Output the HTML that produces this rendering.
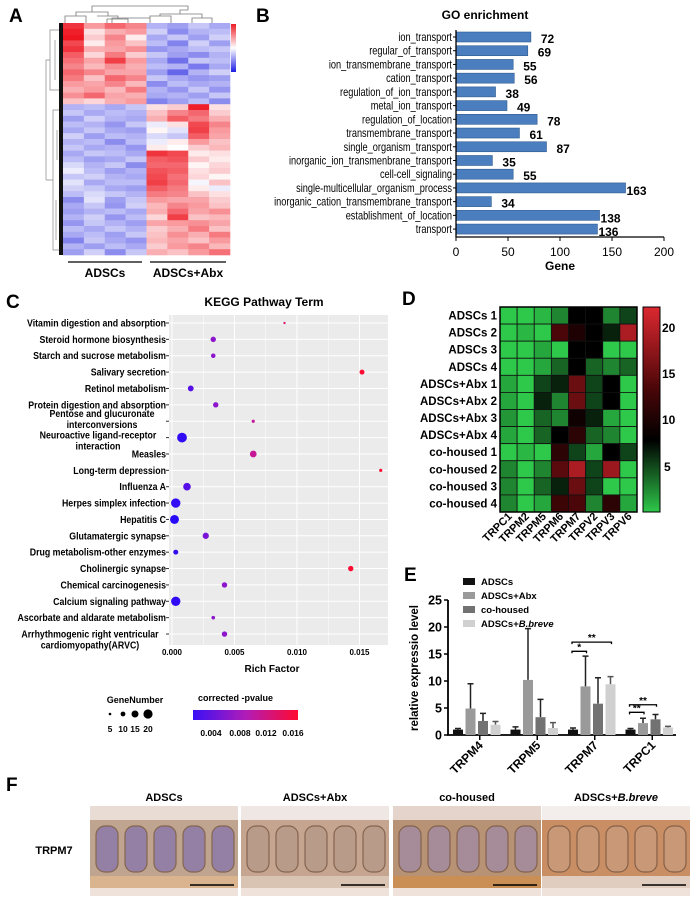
<!DOCTYPE html>
<html><head><meta charset="utf-8"><style>
html,body{margin:0;padding:0;background:#fff;}
svg{display:block;font-family:"Liberation Sans",sans-serif;}
.b{font-weight:bold;}
</style></head><body>
<svg id="fig" width="694" height="906" viewBox="0 0 694 906" xmlns="http://www.w3.org/2000/svg">
<defs>
<linearGradient id="pgrad" x1="0" x2="1" y1="0" y2="0"><stop offset="0" stop-color="#3a10f5"/><stop offset="0.5" stop-color="#b01cb8"/><stop offset="1" stop-color="#ff0a30"/></linearGradient>
<linearGradient id="agrad" x1="0" x2="0" y1="0" y2="1"><stop offset="0" stop-color="#ee1c25"/><stop offset="0.5" stop-color="#fff"/><stop offset="1" stop-color="#1e1ee6"/></linearGradient>
<linearGradient id="dgrad" x1="0" x2="0" y1="0" y2="1"><stop offset="0" stop-color="#dc2830"/><stop offset="0.4" stop-color="#4a0608"/><stop offset="0.65" stop-color="#000"/><stop offset="1" stop-color="#2ec84a"/></linearGradient>
</defs>
<text x="9" y="22" class="b" font-size="19">A</text>
<text x="256" y="22" class="b" font-size="19">B</text>
<text x="6" y="308" class="b" font-size="19">C</text>
<text x="402" y="305" class="b" font-size="19">D</text>
<text x="404" y="581" class="b" font-size="19">E</text>
<text x="6" y="791" class="b" font-size="19">F</text>

<g id="pa"></g>
<path d="M65,23 V16 H86 V23 M107,23 V19 H128 V23 M118,19 V16 H97 M76,16 V12 H108 V16 M112,23 V18 H150 V16 M92,12 V6 H188 V10 M150,23 V16 H171 V23 M192,23 V18 H212 V23 M202,18 V14 H160 V16 M180,14 V10 H188" fill="none" stroke="#777" stroke-width="0.8"/>
<path d="M60,30 H50 V90 H60 M50,60 H46 V180 M60,110 H53 V250 H60 M53,180 H46 M55,40 V80 M57,130 V160 M56,200 V240" fill="none" stroke="#888" stroke-width="0.7"/>
<rect x="59" y="23" width="4" height="232" fill="#111"/>
<rect x="231" y="24" width="5" height="48" fill="url(#agrad)"/>
<line x1="68" y1="262" x2="142" y2="262" stroke="#000" stroke-width="1.2"/>
<line x1="150" y1="262" x2="226" y2="262" stroke="#000" stroke-width="1.2"/>
<text x="105" y="277" text-anchor="middle" class="b" font-size="12">ADSCs</text>
<text x="188" y="277" text-anchor="middle" class="b" font-size="12">ADSCs+Abx</text>

<text x="485" y="19" text-anchor="middle" class="b" font-size="12">GO enrichment</text>
<g id="pb"></g>
<text x="560" y="270" text-anchor="middle" class="b" font-size="12">Gene</text>

<text x="264" y="306" text-anchor="middle" class="b" font-size="12">KEGG Pathway Term</text>
<g id="pc"></g>
<text x="272" y="672" text-anchor="middle" class="b" font-size="10">Rich Factor</text>
<text x="135" y="703" text-anchor="middle" class="b" font-size="9">GeneNumber</text>
<g id="glegend"></g>
<text x="198" y="701" class="b" font-size="9">corrected -pvalue</text>
<rect x="193" y="710" width="105" height="10" fill="url(#pgrad)"/>
<g font-size="8.5" class="b" text-anchor="middle">
<text x="211" y="736">0.004</text><text x="240" y="736">0.008</text><text x="266" y="736">0.012</text><text x="293" y="736">0.016</text></g>

<g id="pd"></g>
<rect x="643" y="307" width="17" height="205" fill="url(#dgrad)" stroke="#000" stroke-width="1"/>
<g class="b" font-size="12">
<text x="662" y="332">20</text><text x="662" y="378">15</text><text x="662" y="424">10</text><text x="664" y="471">5</text></g>

<g id="pe"></g>
<text transform="translate(418,668) rotate(-90)" text-anchor="middle" class="b" font-size="11.5">relative  expressio level</text>

<g id="pf"></g>
<text x="54" y="854" text-anchor="middle" class="b" font-size="11">TRPM7</text>
</svg>
<script>
const aRows = [
[2,1,1.5,1.2,-0.8,-1,-0.6,-0.9],[2.2,0.3,0.8,1.0,-0.5,-1.2,-0.8,-0.7],[2.3,0.5,1.2,0.2,-0.9,-0.6,-1,-0.5],
[1.8,0.2,1.0,0.6,-0.7,-1.3,-0.5,-1],[2.0,0.8,0.9,1.1,-1.1,-0.9,-0.7,-0.6],[1.6,0.4,1.3,0.5,-0.6,-1.0,-1.2,-0.8],
[1.4,0.9,1.9,1.0,-0.9,-1.5,-0.6,-0.7],[1.2,0.7,1.1,0.8,-0.7,-0.8,-1.4,-0.9],[1.5,1.2,0.9,0.9,-1.0,-1.6,-0.8,-0.5],
[1.3,0.6,1.5,1.2,-0.6,-0.9,-1.1,-1],[1.0,0.9,1.2,0.7,-1.2,-0.7,-0.9,-0.8],[0.8,1.0,0.7,1.3,-0.8,-1.1,-0.6,-1.1],
[1.1,1.5,0.9,0.8,-0.9,-0.8,-1.0,-0.6],[0.6,0.4,0.8,1.0,-1.3,-1.0,-0.7,-1.2],[-0.8,-0.7,-0.9,-0.6,0.3,0.5,2.2,0.3],
[-0.6,-0.9,-0.7,-0.8,0.6,1.2,1.5,0.5],[-1.0,-0.5,-0.8,-0.9,0.8,1.6,1.3,0.8],[-0.7,-0.8,-1.1,-0.6,-0.2,0.3,1.8,1.2],
[-0.9,-0.6,-0.9,-1.0,0.1,-0.3,1.9,1.0],[-0.5,-1.0,-0.7,-0.8,-0.4,-0.6,1.6,0.9],[-0.8,-0.7,-1.2,-0.7,-0.2,0.2,1.0,0.6],
[-0.6,-0.9,-0.8,-1.1,0.2,0.0,0.5,0.7],[-0.9,-0.6,-0.7,-0.9,2.0,1.8,0.2,0.3],[-0.7,-1.0,-0.9,-0.6,1.6,1.7,0.5,0.2],
[-0.4,-0.8,-0.6,-1.2,1.5,1.5,0.1,0.4],[-0.2,-0.7,-1.0,-0.8,1.7,1.6,0.3,0.5],[-0.6,-0.5,-0.8,-0.9,1.8,1.4,0.4,0.1],
[-0.3,-0.9,-0.7,-0.7,1.9,1.5,-0.1,0.6],[-0.5,-0.6,-0.9,-1.0,1.6,1.3,0.2,-0.2],[-0.7,-0.4,-0.6,-0.8,1.3,1.2,0.6,0.3],
[-1.2,-0.3,-1.0,-0.6,1.0,0.9,0.9,0.5],[-0.9,-0.6,-1.1,-0.5,0.7,1.2,1.0,0.6],[-1.0,-0.8,-0.7,-0.9,0.8,1.5,0.9,1.1],
[-0.8,-0.5,-1.1,-0.7,0.4,1.9,0.6,0.7],[-1.1,-0.6,-0.8,-1.0,0.9,1.0,1.1,0.9],[-0.7,-0.9,-0.6,-0.8,0.5,0.8,1.3,0.6],
[-0.9,-0.7,-1.0,-0.6,0.6,1.1,0.8,1.3],[-1.3,-0.6,-0.9,-1.1,0.7,0.9,0.6,1.0],[-0.8,-1.0,-0.7,-0.9,0.5,1.0,1.2,0.7],
[-1.0,-0.5,-1.2,-0.6,0.8,0.6,1.0,1.4]];
const goTerms = ["ion_transport","regular_of_transport","ion_transmembrane_transport","cation_transport","regulation_of_ion_transport","metal_ion_transport","regulation_of_location","transmembrane_transport","single_organism_transport","inorganic_ion_transmenbrane_transport","cell-cell_signaling","single-multicellular_organism_process","inorganic_cation_transmembrane_transport","establishment_of_location","transport"];
const goCounts = [72,69,55,56,38,49,78,61,87,35,55,163,34,138,136];
const goTicks = [0,50,100,150,200];
const keggTerms = ["Vitamin digestion and absorption","Steroid hormone biosynthesis","Starch and sucrose metabolism","Salivary secretion","Retinol metabolism","Protein digestion and absorption","Pentose and glucuronate|interconversions","Neuroactive ligand-receptor|interaction","Measles","Long-term depression","Influenza A","Herpes simplex infection","Hepatitis C","Glutamatergic synapse","Drug metabolism-other enzymes","Cholinergic synapse","Chemical carcinogenesis","Calcium signaling pathway","Ascorbate and aldarate metabolism","Arrhythmogenic right ventricular|cardiomyopathy(ARVC)"];
const keggRich = [0.0090,0.0033,0.0033,0.0152,0.0015,0.0035,0.0065,0.0008,0.0065,0.0167,0.0012,0.0003,0.0002,0.0027,0.0003,0.0143,0.0042,0.0003,0.0033,0.0042];
const keggGenes = [3,10,8,9,11,10,5,20,13,5,15,19,18,12,9,10,10,19,6,10];
const keggP = [0.013,0.007,0.007,0.016,0.004,0.007,0.011,0.002,0.011,0.016,0.004,0.002,0.0015,0.006,0.002,0.016,0.007,0.002,0.007,0.007];
const keggTicks = [0,0.005,0.010,0.015];
const geneLegend = [5,10,15,20];
const dRowsLbl = ["ADSCs 1","ADSCs 2","ADSCs 3","ADSCs 4","ADSCs+Abx 1","ADSCs+Abx 2","ADSCs+Abx 3","ADSCs+Abx 4","co-housed 1","co-housed 2","co-housed 3","co-housed 4"];
const dCols = ["TRPC1","TRPM2","TRPM5","TRPM6","TRPM7","TRPV2","TRPV3","TRPV6"];
const dVals = [
[1,1,1.5,3,7,7,3,5],[1,1.5,1,12,9,7,6,18],[1,1,2,1,7,7,1,1],[1,1,2,4,7,4,3,4],
[2,1,5,6,14,5,7,1],[2,1,6,3,14,5,7,1],[2.5,1,4,3,8,6,2,1],[2,1,4,7,10,4,3,0.5],
[0.5,1.5,1,10,5,2,7,5],[3,1,3,13,18,5,17,1],[3,1,4,6,14,5,1,1],[3,1,2,11,12,3,10,2]];
const eGenes = ["TRPM4","TRPM5","TRPM7","TRPC1"];
const eGroups = ["ADSCs","ADSCs+Abx","co-housed","ADSCs+B.breve"];
const eMeans = [[1,4.9,2.6,1.9],[1,10.2,3.3,1.3],[1,9.0,5.8,9.4],[1,2.2,2.9,1.4]];
const eErr = [[0.2,4.6,1.4,0.6],[0.5,9.5,3.3,1.0],[0.3,5.6,4.8,1.4],[0.2,0.9,0.9,0.2]];
const eTicks = [0,5,10,15,20,25];

const NS="http://www.w3.org/2000/svg";
function mk(tag, attrs, parent){const e=document.createElementNS(NS,tag);for(const k in attrs)e.setAttribute(k,attrs[k]);parent.appendChild(e);return e;}
function mix(a,b,t){return `rgb(${Math.round(a[0]+(b[0]-a[0])*t)},${Math.round(a[1]+(b[1]-a[1])*t)},${Math.round(a[2]+(b[2]-a[2])*t)})`;}

(function(){
  const g=document.getElementById('pa');
  const x0=63,x1=230,y0=23,y1=255,cw=(x1-x0)/8,rh=(y1-y0)/aRows.length;
  const RED=[238,22,32],BLUE=[35,35,225],W=[255,255,255];
  function col(v){const t=Math.max(-1,Math.min(1,v/2.3));return t>=0?mix(W,RED,t):mix(W,BLUE,-t);}
  aRows.forEach((row,i)=>row.forEach((v,j)=>{
    const r=mk('rect',{x:x0+j*cw,y:y0+i*rh,width:cw+0.3,height:rh+0.3,fill:col(v)},g);
    
    
  }));
})();

(function(){
  const g=document.getElementById('pb');
  const xs=v=>456+v*1.04, ys=i=>37+i*13.72;
  goTerms.forEach((t,i)=>{
    const lb=mk('text',{x:452,y:ys(i)+4,'text-anchor':'end','font-size':11.5,transform:'translate(452,0) scale(0.8,1) translate(-452,0)'},g);lb.textContent=t;
    
    
    const tk=mk('line',{x1:453,x2:456,y1:ys(i),y2:ys(i),stroke:'#000'},g);
    
    
    const b=mk('rect',{x:456,y:ys(i)-5,width:xs(goCounts[i])-456,height:10,fill:'#4a7ebf',stroke:'#2f5a8e','stroke-width':0.6},g);
    
    
    const near=goCounts[i]>100;
    const v=mk('text',{x:xs(goCounts[i])+(near?1:10),y:ys(i)+(near?7:6),'font-size':12,class:'b'},g);v.textContent=goCounts[i];
    
    
  });
  const ax=mk('path',{d:'M456,30 V237 H664',fill:'none',stroke:'#000','stroke-width':1.3},g);
  
  
  goTicks.forEach(t=>{
    const l=mk('line',{x1:xs(t),x2:xs(t),y1:237,y2:241,stroke:'#000'},g);
    
    
    const tx=mk('text',{x:xs(t),y:256,'text-anchor':'middle','font-size':12},g);tx.textContent=t;
    
    
  });
})();

(function(){
  const g=document.getElementById('pc');
  const px0=169,px1=388,py0=315,py1=645;
  const xs=v=>172+v*12500, ys=i=>323+i*16.37;
  const rs=n=>0.22*n+0.5;
  const S=0.88, ax=166, sx=t=>ax+(t-ax)/S;
  const pc=p=>{const t=Math.max(0,Math.min(1,(p-0.0015)/0.0148));return t<0.5?mix([40,10,250],[175,25,190],t*2):mix([175,25,190],[255,10,45],(t-0.5)*2);};
  const bg=mk('rect',{x:px0,y:py0,width:px1-px0,height:py1-py0,fill:'#ebebeb'},g);
  
  
  for(let k=0;k<=7;k++){const v=k*0.0025;
    const gl=mk('line',{x1:xs(v),x2:xs(v),y1:py0,y2:py1,stroke:'#fff','stroke-width':k%2?0.5:1},g);
    
    }
  keggTerms.forEach((t,i)=>{
    const y=ys(i);
    const gl=mk('line',{x1:px0,x2:px1,y1:y,y2:y,stroke:'#fff','stroke-width':1},g);
    
    
    const parts=t.split('|');
    const lb=mk('text',{'font-size':10,class:'b',transform:`translate(${ax},0) scale(${S},1) translate(${-ax},0)`},g);
    
    
    if(parts.length===1){lb.setAttribute('x',ax);lb.setAttribute('y',y+3.5);lb.setAttribute('text-anchor','end');lb.textContent=parts[0];}
    else{
      lb.setAttribute('text-anchor','middle');
      let c1,y1;
      if(i===6){c1=102;y1=y-4;}
      else if(i===7){c1=98;y1=y+1;}
      else{c1=90;y1=y+3.5;}
      const t1=mk('tspan',{x:sx(c1),y:y1},lb);t1.textContent=parts[0];
      const t2=mk('tspan',{x:sx(c1),y:y1+11},lb);t2.textContent=parts[1];
    }
    const tk=mk('line',{x1:166,x2:169,y1:y,y2:y,stroke:'#333'},g);
    
    
    const c=mk('circle',{cx:xs(keggRich[i]),cy:y,r:rs(keggGenes[i]),fill:pc(keggP[i])},g);
    
    
  });
  keggTicks.forEach(t=>{
    const tx=mk('text',{x:xs(t),y:655,'text-anchor':'middle','font-size':8,class:'b'},g);tx.textContent=t.toFixed(3);
    
    
  });
  const lg=document.getElementById('glegend');
  const lx=[110,123,135,148];
  geneLegend.forEach((n,k)=>{
    const c=mk('circle',{cx:lx[k],cy:714,r:rs(n)-0.3,fill:'#000'},lg);
    
    
    const tx=mk('text',{x:lx[k],y:732,'text-anchor':'middle','font-size':8.5,class:'b'},lg);tx.textContent=n;
    
    
  });
})();

(function(){
  const g=document.getElementById('pd');
  const x0=500,y0=307,cw=(637-500)/8,rh=(512-307)/12;
  const GREEN=[46,200,74],BLACK=[0,0,0],DRED=[74,6,8],RED=[220,40,48];
  function col(v){if(v<=1)return mix(GREEN,GREEN,0);if(v<=7)return mix(GREEN,BLACK,(v-1)/6);if(v<=12)return mix(BLACK,DRED,(v-7)/5);return mix(DRED,RED,Math.min(1,(v-12)/9));}
  dVals.forEach((row,i)=>{
    const lb=mk('text',{x:497,y:y0+i*rh+rh/2+4,'text-anchor':'end','font-size':11.5,class:'b'},g);lb.textContent=dRowsLbl[i];
    
    
    row.forEach((v,j)=>{
      const r=mk('rect',{x:x0+j*cw,y:y0+i*rh,width:cw,height:rh,fill:col(v),stroke:'#111','stroke-width':0.8},g);
      
      
    });
  });
  const bd=mk('rect',{x:x0,y:y0,width:137,height:205,fill:'none',stroke:'#000','stroke-width':1.5},g);
  
  
  dCols.forEach((c,j)=>{
    const cx=x0+j*cw+cw/2+4;
    const tx=mk('text',{transform:`translate(${cx},517) rotate(-45)`,'text-anchor':'end','font-size':11,class:'b'},g);tx.textContent=c;
    
    
  });
})();

(function(){
  const g=document.getElementById('pe');
  const ys=v=>735-v*5.4;
  const gx=i=>458+i*57.5, bw=10, step=12.5;
  const cols=['#111','#9a9a9a','#727272','#d0d0d0'];
  eGroups.forEach((n,k)=>{
    const r=mk('rect',{x:463,y:578+k*14,width:12,height:7,fill:cols[k]},g);
    
    
    const t=mk('text',{x:481,y:585+k*14,'font-size':9.5,class:'b'},g);
    
    
    if(n.indexOf('B.breve')>=0){t.textContent='ADSCs+';const s=mk('tspan',{'font-style':'italic'},t);s.textContent='B.breve';}else t.textContent=n;
  });
  const ax=mk('path',{d:'M448,600 V735 H676',fill:'none',stroke:'#000','stroke-width':1.8},g);
  
  
  eTicks.forEach(t=>{
    const l=mk('line',{x1:444,x2:448,y1:ys(t),y2:ys(t),stroke:'#000','stroke-width':1.5},g);
    
    
    const tx=mk('text',{x:442,y:ys(t)+4.5,'text-anchor':'end','font-size':12.5,class:'b'},g);tx.textContent=t;
    
    
  });
  eGenes.forEach((gn,i)=>{
    for(let k=0;k<4;k++){
      const cx=gx(i)+k*step;
      const m=eMeans[i][k],e=eErr[i][k];
      const el=mk('path',{d:`M${cx},${ys(m)} V${ys(m+e)} M${cx-3},${ys(m+e)} H${cx+3}`,stroke:cols[k]==='#d0d0d0'?'#555':'#222','stroke-width':1.5,fill:'none'},g);
      
      
      const b=mk('rect',{x:cx-bw/2,y:ys(m),width:bw,height:ys(0)-ys(m),fill:cols[k]},g);
      
      
    }
    const tkx=gx(i)+step*1.5+3;
    const tk=mk('line',{x1:tkx,x2:tkx,y1:735,y2:740,stroke:'#000','stroke-width':1.5},g);
    
    
    const tx=mk('text',{transform:`translate(${tkx+4},746) rotate(-45)`,'text-anchor':'end','font-size':12,class:'b'},g);tx.textContent=gn;
    
    
  });
  const br=[[2,0,1,'*',15.5],[2,0,3,'**',17.2],[3,0,1,'**',4.2],[3,0,2,'**',5.6]];
  br.forEach(b=>{
    const xa=gx(b[0])+b[1]*step-1, xb=gx(b[0])+b[2]*step+1;
    const y=ys(b[4]);
    const p=mk('path',{d:`M${xa},${y+2} V${y} H${xb} V${y+2}`,stroke:'#000','stroke-width':1.3,fill:'none'},g);
    
    
    const t=mk('text',{x:(xa+xb)/2,y:y-1,'text-anchor':'middle','font-size':10,class:'b'},g);t.textContent=b[3];
    
    
  });
})();

(function(){
  const g=document.getElementById('pf');
  const titles=["ADSCs","ADSCs+Abx","co-housed","ADSCs+B.breve"];
  const xs=[90,241,393,542], w=148, y0=806, h=90;
  const tint=[['#e9dcd4','#bfa58f','#8c7aa8','#d9b48e'],['#efe7e3','#c5a590','#b89a88','#d9c3b3'],['#e4d4cc','#b89275','#a38ba0','#c98f55'],['#f3eeec','#c98e63','#c99a7a','#e0cdc0']];
  xs.forEach((x,k)=>{
    const t=mk('text',{x:x+w/2,y:801,'text-anchor':'middle','font-size':11,class:'b'},g);
    
    
    if(k===3){t.textContent='ADSCs+';const s=mk('tspan',{'font-style':'italic'},t);s.textContent='B.breve';}else t.textContent=titles[k];
    const c=tint[k];
    const im=mk('g',{},g);
    
    
    mk('rect',{x:x,y:y0,width:w,height:h,fill:c[0]},im);
    mk('rect',{x:x,y:y0+14,width:w,height:56,fill:c[1]},im);
    for(let i=0;i<5;i++){
      mk('rect',{x:x+6+i*29,y:y0+20,width:22,height:46,rx:9,fill:c[2],stroke:'#7a5a45','stroke-width':1.2,opacity:0.85},im);
    }
    mk('rect',{x:x,y:y0+70,width:w,height:12,fill:c[3]},im);
    mk('rect',{x:x,y:y0+82,width:w,height:8,fill:'#eee2da'},im);
    const sb=mk('line',{x1:x+w-48,x2:x+w-4,y1:y0+79,y2:y0+79,stroke:'#000','stroke-width':1.6},g);
    
    
  });
})();
</script>
</body></html>
